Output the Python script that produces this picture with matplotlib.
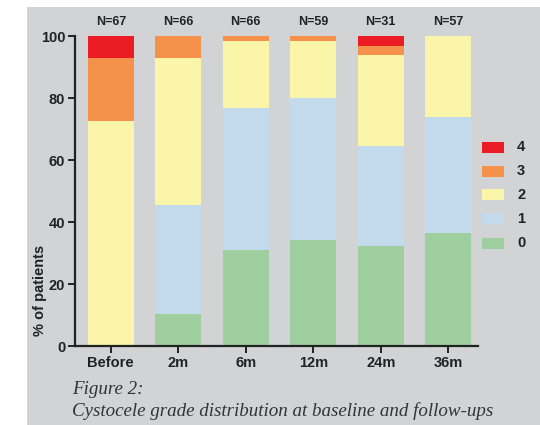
import matplotlib
matplotlib.use("Agg")
import matplotlib.pyplot as plt
from matplotlib.patches import Rectangle
import numpy as np

# follow-up time points and patient counts
timepoints = ["Before", "2m", "6m", "12m", "24m", "36m"]
n_patients = [67, 66, 66, 59, 31, 57]

# % of patients per cystocele grade
grade_labels = ["0", "1", "2", "3", "4"]
grade0 = [0, 10.4, 31.0, 34.3, 32.3, 36.5]
grade1 = [0, 35.1, 45.7, 45.8, 32.2, 37.3]
grade2 = [72.6, 47.5, 21.8, 18.4, 29.3, 26.2]
grade3 = [20.4, 7.0, 1.5, 1.5, 3.0, 0]
grade4 = [7.0, 0, 0, 0, 3.2, 0]

colors = ["#a0cf9f", "#c3d9ec", "#faf5a8", "#f5914a", "#ec1c24"]
bg = "#d1d3d5"
ink = "#222222"
sans = ["Liberation Sans", "DejaVu Sans"]

fig = plt.figure(figsize=(5.4, 4.25), dpi=100)
fig.patch.set_facecolor("white")
fig.add_artist(Rectangle((27 / 540, 0), 1 - 27 / 540, 1 - 7 / 425,
                         transform=fig.transFigure, facecolor=bg, edgecolor="none", zorder=0))

ax = fig.add_axes([75 / 540, 79 / 425, 403 / 540, 310 / 425])
ax.patch.set_alpha(0)

x = np.arange(len(timepoints))
bottom = np.zeros(len(timepoints))
for vals, col in zip([grade0, grade1, grade2, grade3, grade4], colors):
    ax.bar(x, vals, width=0.68, bottom=bottom, color=col, edgecolor="none")
    bottom += np.array(vals)

for xi, n in zip(x, n_patients):
    ax.text(xi, 104.5, f"N={n}", ha="center", va="center", fontsize=9,
            family=sans, fontweight="bold", color=ink, clip_on=False)

ax.set_xlim(-0.53, 5.44)
ax.set_ylim(0, 100)
ax.set_yticks([0, 20, 40, 60, 80, 100])
ax.set_xticks(x)
ax.set_xticklabels(timepoints)
for sp in ["top", "right"]:
    ax.spines[sp].set_visible(False)
for sp in ["left", "bottom"]:
    ax.spines[sp].set_color(ink)
    ax.spines[sp].set_linewidth(1.6)
ax.tick_params(axis="both", length=5, width=1.4, color=ink,
               labelsize=10.5, labelcolor=ink, pad=2)
for lab in ax.get_xticklabels() + ax.get_yticklabels():
    lab.set_fontweight("bold")
    lab.set_family(sans)

fig.text(40 / 540, 1 - 290 / 425, "% of patients", rotation=90, ha="center", va="center",
         fontsize=10.5, family=sans, fontweight="bold", color=ink)

# legend, top row is grade 4
leg_y = [243, 219, 195, 171, 147]
for lab, col, yy in zip(grade_labels, colors, leg_y):
    fig.add_artist(Rectangle((482 / 540, 1 - (yy + 5.5) / 425), 22 / 540, 11 / 425,
                             transform=fig.transFigure, facecolor=col, edgecolor="none"))
    fig.text(517 / 540, 1 - yy / 425, lab, ha="left", va="center", fontsize=10.5,
             family=sans, fontweight="bold", color=ink)

cap_font = {"family": "Liberation Serif", "style": "italic", "size": 13.7, "color": "#333333"}
fig.text(72 / 540, 1 - 390 / 425, "Figure 2:", va="center", **cap_font)
fig.text(72 / 540, 1 - 411 / 425, "Cystocele grade distribution at baseline and follow-ups",
         va="center", **cap_font)

fig.savefig("out.png", dpi=100, facecolor=fig.get_facecolor())
